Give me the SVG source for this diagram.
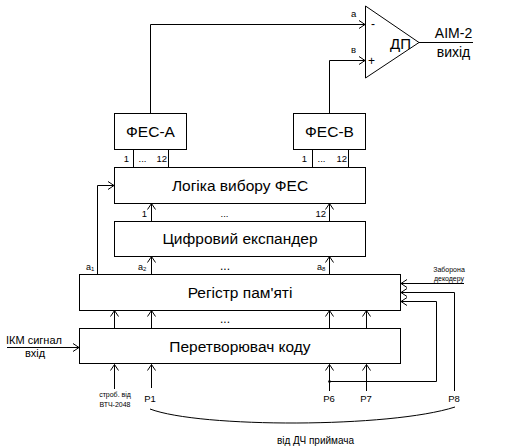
<svg xmlns="http://www.w3.org/2000/svg" width="510" height="447" viewBox="0 0 510 447">
<defs>
<marker id="arr" markerUnits="userSpaceOnUse" markerWidth="8" markerHeight="10" refX="6" refY="4" orient="auto" overflow="visible">
<path d="M0,0 L6,4 L0,8" fill="none" stroke="#000" stroke-width="1"/>
</marker>
</defs>
<style>
.box{fill:#fff;stroke:#000;stroke-width:1}
.ln{fill:none;stroke:#000;stroke-width:1}
.t{font-family:"Liberation Sans",Arial,sans-serif;fill:#000}
.big{font-size:15.5px}
.sm{font-size:9.5px}
.xs{font-size:7px}
</style>
<rect width="510" height="447" fill="#fff"/>
<g id="connectors">
<path class="ln" d="M150.5,113 V24.5 H365" marker-end="url(#arr)"/>
<path class="ln" d="M329.5,113 V60.5 H365" marker-end="url(#arr)"/>
<path class="ln" d="M419,42.5 H473"/>
<path class="ln" d="M133.5,149 V167 M168.5,149 V167 M312.5,149 V167 M348.5,149 V167"/>
<path class="ln" d="M151.5,221 V203.5" marker-end="url(#arr)"/>
<path class="ln" d="M329.5,221 V203.5" marker-end="url(#arr)"/>
<path class="ln" d="M151.5,274 V256.5" marker-end="url(#arr)"/>
<path class="ln" d="M329.5,274 V256.5" marker-end="url(#arr)"/>
<path class="ln" d="M97.5,274 V185.5 H114" marker-end="url(#arr)"/>
<path class="ln" d="M114.5,328 V310.5" marker-end="url(#arr)"/>
<path class="ln" d="M151.5,328 V310.5" marker-end="url(#arr)"/>
<path class="ln" d="M329.5,328 V310.5" marker-end="url(#arr)"/>
<path class="ln" d="M366.5,328 V310.5" marker-end="url(#arr)"/>
<path class="ln" d="M114.5,389 V364.5" marker-end="url(#arr)"/>
<path class="ln" d="M151.5,388 V364.5" marker-end="url(#arr)"/>
<path class="ln" d="M329.5,391 V364.5" marker-end="url(#arr)"/>
<path class="ln" d="M366.5,391 V364.5" marker-end="url(#arr)"/>
<path class="ln" d="M7,347.5 H79" marker-end="url(#arr)"/>
<path class="ln" d="M464,283.5 H401" marker-end="url(#arr)"/>
<path class="ln" d="M454.5,391 V292.5 H401" marker-end="url(#arr)"/>
<path class="ln" d="M329.5,381.5 H436.5 V301.5 H401" marker-end="url(#arr)"/>
<circle cx="329.5" cy="381.5" r="1.3" fill="#000"/>
<path class="ln" d="M150,409 C200,428 390,428 455,407"/>
</g>
<g id="opamp">
<path class="box" d="M365.5,6 L419,42.5 L365.5,78 Z"/>
<text class="t" x="390" y="48.5" font-size="15">ДП</text>
<text class="t" x="371" y="28" font-size="12">-</text>
<text class="t" x="368" y="65" font-size="12">+</text>
<text class="t" x="351" y="17" font-size="9.5">а</text>
<text class="t" x="351" y="53" font-size="9.5">в</text>
<text class="t" x="453.5" y="38" font-size="14" text-anchor="middle">АІМ-2</text>
<text class="t" x="453.5" y="56.5" font-size="14" text-anchor="middle">вихід</text>
</g>
<g id="fes-a">
<rect class="box" x="114.5" y="113.5" width="72" height="36"/>
<text class="t big" x="150.5" y="137" text-anchor="middle">ФЕС-А</text>
<text class="t sm" x="129" y="161.5" text-anchor="end">1</text>
<text class="t sm" x="142.5" y="161.5" text-anchor="middle">...</text>
<text class="t sm" x="167" y="161.5" text-anchor="end">12</text>
</g>
<g id="fes-b">
<rect class="box" x="293.5" y="113.5" width="72" height="36"/>
<text class="t big" x="329.5" y="137" text-anchor="middle">ФЕС-В</text>
<text class="t sm" x="307" y="161.5" text-anchor="end">1</text>
<text class="t sm" x="321.5" y="161.5" text-anchor="middle">...</text>
<text class="t sm" x="347" y="161.5" text-anchor="end">12</text>
</g>
<g id="logic">
<rect class="box" x="114.5" y="167.5" width="251" height="36"/>
<text class="t big" x="240" y="190.5" text-anchor="middle">Логіка вибору ФЕС</text>
<text class="t sm" x="147" y="216.5" text-anchor="end">1</text>
<text class="t sm" x="224.5" y="216.5" text-anchor="middle">...</text>
<text class="t sm" x="326" y="216.5" text-anchor="end">12</text>
</g>
<g id="expander">
<rect class="box" x="114.5" y="221.5" width="251" height="35"/>
<text class="t big" x="240" y="244" text-anchor="middle">Цифровий експандер</text>
</g>
<g id="register">
<rect class="box" x="79.5" y="274.5" width="321" height="36"/>
<text class="t big" x="240" y="297.5" text-anchor="middle">Регістр пам'яті</text>
<text class="t" x="86" y="270" font-size="9">а<tspan font-size="6" dy="1">1</tspan></text>
<text class="t" x="138" y="270" font-size="9">а<tspan font-size="6" dy="1">2</tspan></text>
<text class="t" x="317" y="270" font-size="9">а<tspan font-size="6" dy="1">8</tspan></text>
<text class="t" x="225" y="270" font-size="12" text-anchor="middle">...</text>
<text class="t xs" x="449" y="272" text-anchor="middle">Заборона</text>
<text class="t xs" x="449" y="281" text-anchor="middle">декодеру</text>
</g>
<g id="converter">
<rect class="box" x="79.5" y="328.5" width="321" height="35"/>
<text class="t big" x="240" y="351.5" text-anchor="middle">Перетворювач коду</text>
<text class="t" x="225" y="323" font-size="12" text-anchor="middle">...</text>
<text class="t" x="34" y="343.5" font-size="11" text-anchor="middle">ІКМ сигнал</text>
<text class="t" x="35" y="357" font-size="11" text-anchor="middle">вхід</text>
<text class="t xs" x="115" y="397" text-anchor="middle">строб. від</text>
<text class="t xs" x="115" y="406.5" text-anchor="middle">ВТЧ-2048</text>
<text class="t sm" x="150" y="402" text-anchor="middle">Р1</text>
<text class="t sm" x="329" y="402" text-anchor="middle">Р6</text>
<text class="t sm" x="366" y="402" text-anchor="middle">Р7</text>
<text class="t sm" x="454" y="402" text-anchor="middle">Р8</text>
<text class="t" x="315.5" y="444" font-size="10" text-anchor="middle">від ДЧ приймача</text>
</g>
</svg>
